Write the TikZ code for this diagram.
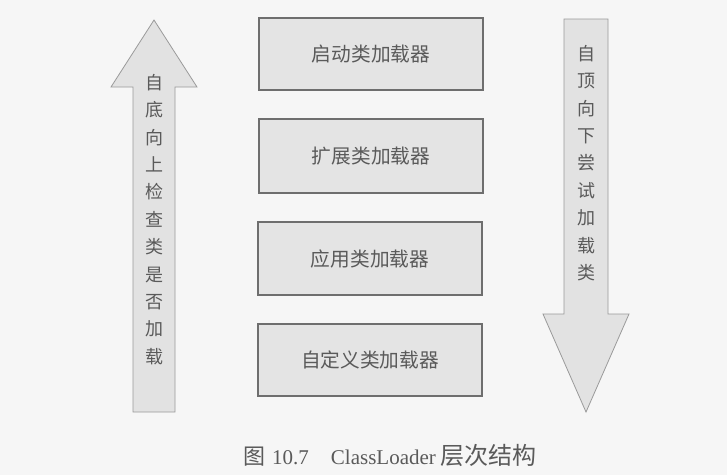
\documentclass[tikz,border=0pt]{standalone}
\usepackage{fontspec}
\newfontfamily\cjk{Noto Sans CJK SC}
\newfontfamily\serifl{Liberation Serif}
\definecolor{pagebg}{HTML}{F6F6F6}
\definecolor{boxfill}{HTML}{E4E4E4}
\definecolor{boxline}{HTML}{6E6E6E}
\definecolor{arrfill}{HTML}{E2E2E2}
\definecolor{arrline}{HTML}{9A9A9A}
\definecolor{txt}{HTML}{5A5A5A}
\tikzset{
  loaderbox/.style={draw=boxline, line width=1.6pt, fill=boxfill, minimum width=224pt, minimum height=72pt, inner sep=0pt, text=txt, font=\cjk\fontsize{19.7}{21}\selectfont},
  bigarrow/.style={draw=arrline, line width=0.8pt, fill=arrfill},
  vtext/.style={align=center, text=txt, inner sep=0pt, font=\cjk\fontsize{18}{27.4}\selectfont},
}
\begin{document}
\begin{tikzpicture}[x=1pt,y=-1pt]
\path[fill=pagebg] (0,0) rectangle (727,475);
\useasboundingbox (0,0) rectangle (727,475);
% left arrow (bottom-up)
\draw[bigarrow] (133,412) -- (133,87) -- (111,87) -- (154,20) -- (197,87) -- (175,87) -- (175,412) -- cycle;
\node[vtext] (lefttext) at (154,219.5) {自\\底\\向\\上\\检\\查\\类\\是\\否\\加\\载};
% right arrow (top-down)
\draw[bigarrow] (564,19) -- (608,19) -- (608,314) -- (629,314) -- (586,412) -- (543,314) -- (564,314) -- cycle;
\node[vtext] (righttext) at (586,163) {自\\顶\\向\\下\\尝\\试\\加\\载\\类};
% boxes
\node[loaderbox] (boot) at (371,54) {启动类加载器};
\node[loaderbox, minimum height=74pt] (ext) at (371,156) {扩展类加载器};
\node[loaderbox, minimum height=73pt] (app) at (370,258.5) {应用类加载器};
\node[loaderbox] (custom) at (370,360) {自定义类加载器};
% caption
\node[text=txt, inner sep=0pt, anchor=west] (caption) at (243,455) {{\cjk\fontsize{22}{24}\selectfont 图}\hspace{7pt}{\serifl\fontsize{21}{24}\selectfont 10.7}\hspace{22pt}{\serifl\fontsize{21}{24}\selectfont ClassLoader}\hspace{5pt}{\cjk\fontsize{24}{24}\selectfont 层次结构}};
\end{tikzpicture}
\end{document}
